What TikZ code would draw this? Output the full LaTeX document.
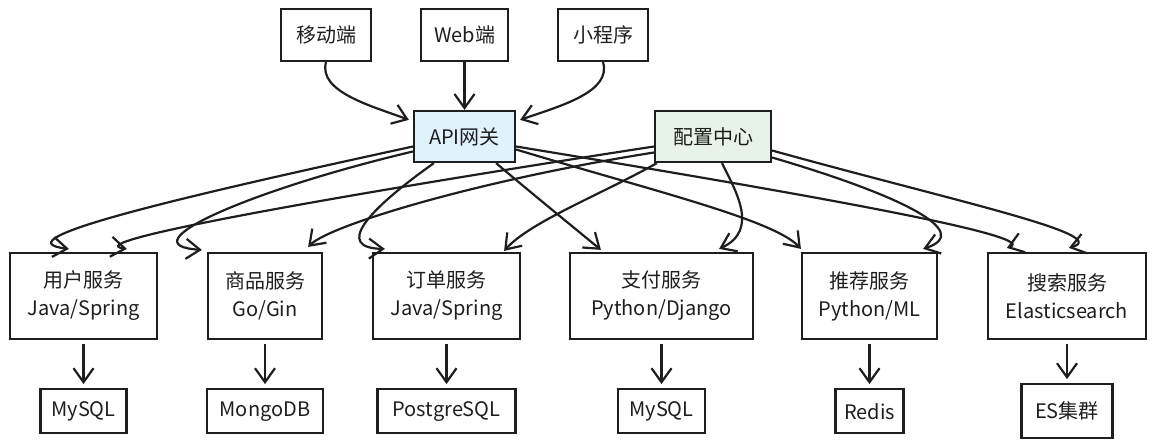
\documentclass[tikz,border=0pt]{standalone}
\usepackage{fontspec}
\setmainfont{Noto Sans CJK SC}
\usepackage{tikz}
\usetikzlibrary{arrows.meta,calc,positioning}
\definecolor{ink}{HTML}{1E1E1E}
\definecolor{apiblue}{RGB}{224,242,252}
\definecolor{cfggreen}{RGB}{230,243,230}
\tikzset{
	sketch/.style={
		x=0.5pt, y=-0.5pt,
		color=ink, line width=1.1pt,
		ar/.style={-{Straight Barb[length=7pt,width=10pt]}},
		dbar/.style={ar, shorten <=2pt, shorten >=2pt},
		every node/.style={font=\fontsize{10pt}{14pt}\selectfont}},
	bb/.style 2 args={draw, line width=1.1pt, inner sep=0pt, align=center,
		minimum width=#1, minimum height=#2},
	client/.style={bb={#1}{26pt}},
	svc/.style={bb={#1}{43pt}},
	store/.style={bb={#1}{22pt}}
}

\begin{document}
\begin{tikzpicture}[sketch]
   \useasboundingbox (0,0) rectangle (1158,444);
   % clients
   \node[client=45pt]   (mobile) at (326,35)  {移动端};
   \node[client=43.5pt] (web)    at (464.5,35) {Web端};
   \node[client=45pt]   (mini)   at (603,35)  {小程序};
   \node[bb={50.5pt}{25.5pt}, fill=apiblue]  (api)    at (464.5,136.5) {API网关};
   \node[bb={58pt}{25.5pt},   fill=cfggreen] (config) at (713,136.5)   {配置中心};
   % services
   \node[svc=73.5pt] (user)   at (83.5,296)  {用户服务\\Java/Spring};
   \node[svc=57pt]   (goods)  at (265,296)   {商品服务\\Go/Gin};
   \node[svc=73.5pt] (order)  at (446.5,296) {订单服务\\Java/Spring};
   \node[svc=91.5pt] (pay)    at (661.5,296) {支付服务\\Python/Django};
   \node[svc=67.5pt] (rec)    at (869.5,296) {推荐服务\\Python/ML};
   \node[svc=79pt]   (search) at (1067,296)  {搜索服务\\Elasticsearch};
   % stores
   \node[store=43pt,   below=24pt of user]  (mysqlA) {MySQL};
   \node[store=58pt,   below=24pt of goods] (mongo)  {MongoDB};
   \node[store=69pt,   below=24pt of order] (pg)     {PostgreSQL};
   \node[store=43.5pt, below=24pt of pay]   (mysqlB) {MySQL};
   \node[store=34pt,   below=24pt of rec]   (redis)  {Redis};
   \node[bb={45.5pt}{27pt}, below=21.5pt of search] (es) {ES集群};

   \draw[ar] (mobile.south) .. controls (318,92) and (372,106) .. ($(api.north west)+(-4,10)$);
   \draw[ar] (web) -- (api);
   \draw[ar] (mini.south) .. controls (612,92) and (560,106) .. ($(api.north east)+(4,10)$);

   \draw[ar] ($(api.west)+(0,10)$) .. controls (190,195) and (-5,240) .. ($(user.north west)+(60,-3)$);
   \draw[ar] ($(api.west)+(0,15)$) .. controls (250,190) and (125,245) .. ($(goods.north west)+(-5,-2)$);
   \draw[ar] ($(api.south west)+(21,0)$) .. controls (365,212) and (335,248) .. ($(order.north west)+(13,-3)$);
   \draw[ar] ($(api.south east)+(-20,0)$) .. controls (530,192) and (572,226) .. ($(pay.north west)+(32,-2)$);
   \draw[ar] ($(api.east)+(0,13)$) .. controls (650,190) and (775,220) .. ($(rec.north west)+(0,-3)$);
   \draw[ar] ($(api.east)+(0,10)$) .. controls (750,185) and (1045,235) .. ($(search.north west)+(20,-4)$);

   \draw[ar] ($(config.west)+(0,10)$) .. controls (340,195) and (75,242) .. ($(user.north west)+(118,-3)$);
   \draw[ar] ($(config.west)+(0,16)$) .. controls (480,180) and (330,225) .. ($(goods.north east)+(-15,-5)$);
   \draw[ar] ($(config.south west)+(3,0)$) .. controls (600,195) and (530,222) .. ($(order.north east)+(-17,-1)$);
   \draw[ar] ($(config.south)+(9,0)$) .. controls (735,190) and (760,230) .. ($(pay.north east)+(-35,-3)$);
   \draw[ar] ($(config.east)+(0,21)$) .. controls (900,195) and (975,232) .. ($(rec.north east)+(-15,-3)$);
   \draw[ar] ($(config.east)+(0,14)$) .. controls (950,200) and (1115,235) .. ($(search.north west)+(82,-4)$);

   \draw[dbar] (user) -- (mysqlA);
   \draw[dbar] (goods) -- (mongo);
   \draw[dbar] (order) -- (pg);
   \draw[dbar] (pay) -- (mysqlB);
   \draw[dbar] (rec) -- (redis);
   \draw[dbar] (search) -- (es);
\end{tikzpicture}
\end{document}
